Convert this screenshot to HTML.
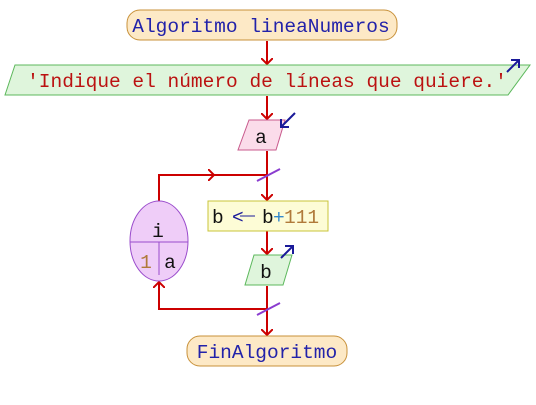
<!DOCTYPE html>
<html><head><style>body{margin:0;background:#fff}svg text{font-family:"Liberation Mono",monospace;font-size:19.5px}</style></head><body>
<svg width="536" height="400" viewBox="0 0 536 400" xmlns="http://www.w3.org/2000/svg">
<defs><marker id="ar" markerWidth="12" markerHeight="12" refX="6" refY="6" orient="auto" markerUnits="userSpaceOnUse"><path d="M0,0 L6,6 L0,12" fill="none" stroke="#c00" stroke-width="2"/></marker></defs>
<g stroke="#c00" stroke-width="2" fill="none">
<line x1="267" y1="41" x2="267" y2="64" marker-end="url(#ar)"/>
<line x1="267" y1="96" x2="267" y2="119" marker-end="url(#ar)"/>
<line x1="267" y1="151" x2="267" y2="200" marker-end="url(#ar)"/>
<line x1="267" y1="231" x2="267" y2="254" marker-end="url(#ar)"/>
<line x1="267" y1="286" x2="267" y2="335" marker-end="url(#ar)"/>
<polyline points="159,201 159,175 267,175"/>
<line x1="159" y1="175" x2="214" y2="175" marker-end="url(#ar)"/>
<polyline points="267,309 159,309 159,282"/>
<line x1="159" y1="309" x2="159" y2="282" marker-end="url(#ar)"/>
</g>
<g stroke="#8a3ccf" stroke-width="2"><line x1="257" y1="181" x2="280" y2="169"/><line x1="257" y1="315" x2="280" y2="303"/></g>
<rect x="127" y="10" width="270" height="30" rx="13" fill="#fde9c6" stroke="#c8913a"/>
<text x="261" y="32" text-anchor="middle" fill="#2222aa">Algoritmo lineaNumeros</text>
<polygon points="15,65 530,65 508,95 5,95" fill="#dff5dc" stroke="#5cb85c"/>
<text x="267" y="87" text-anchor="middle" fill="#bb1111">'Indique el número de líneas que quiere.'</text>
<polygon points="249,120 285,120 276,150 238,150" fill="#fbdcea" stroke="#c85a8c"/>
<text x="261" y="143" text-anchor="middle" fill="#111">a</text>
<rect x="208" y="201" width="120" height="30" fill="#fdfcd6" stroke="#c9c43a"/>
<text x="212" y="223" fill="#111">b</text><text x="232" y="223" fill="#1a1a99">&lt;</text><line x1="240" y1="216" x2="255" y2="216" stroke="#1a1a99"/>
<text x="262" y="223" fill="#111">b</text><text x="273" y="223" fill="#3388cc">+</text><text x="284" y="223" fill="#b07a3a">111</text>
<polygon points="254,255 292,255 283,285 245,285" fill="#dff5dc" stroke="#5cb85c"/>
<text x="266" y="278" text-anchor="middle" fill="#111">b</text>
<ellipse cx="159" cy="241" rx="29" ry="40" fill="#efcdf8" stroke="#9a4ccc"/>
<line x1="130" y1="242" x2="188" y2="242" stroke="#9a4ccc"/><line x1="159" y1="242" x2="159" y2="275" stroke="#9a4ccc"/>
<text x="158" y="237" text-anchor="middle" fill="#111">i</text>
<text x="146" y="268" text-anchor="middle" fill="#b07a3a">1</text>
<text x="170" y="268" text-anchor="middle" fill="#111">a</text>
<rect x="187" y="336" width="160" height="30" rx="13" fill="#fde9c6" stroke="#c8913a"/>
<text x="267" y="358" text-anchor="middle" fill="#2222aa">FinAlgoritmo</text>
<g stroke="#1a1a99" stroke-width="2" fill="none"><line x1="507" y1="72" x2="519" y2="60"/><polyline points="511,60 519,60 519,68"/>
<line x1="295" y1="113" x2="281" y2="127"/><polyline points="281,119 281,127 289,127"/>
<line x1="281" y1="258" x2="293" y2="246"/><polyline points="285,246 293,246 293,254"/></g>
</svg>
</body></html>
